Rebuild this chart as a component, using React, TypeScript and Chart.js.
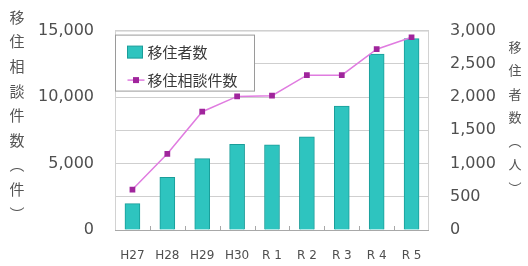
import React, { useEffect, useRef } from 'react';
import { Chart, registerables } from 'chart.js';
Chart.register(...registerables);

const categories = ['H27', 'H28', 'H29', 'H30', 'R 1', 'R 2', 'R 3', 'R 4', 'R 5'];
const migrants = [396, 792, 1075, 1288, 1280, 1400, 1865, 2645, 2880];
const consultations = [3040, 5730, 8900, 10050, 10100, 11650, 11650, 13600, 14500];
const leftTitle = ['移', '住', '相', '談', '件', '数', '︵', '件', '︶'];
const rightTitle = ['移', '住', '者', '数', '︵', '人', '︶'];
const barLabel = '移住者数';
const lineLabel = '移住相談件数';

const TEAL = '#2ec4bf';
const TEAL_EDGE = '#1a9d99';
const LINE = '#e07ce0';
const MARK = '#a0259c';
const TICK = '#4f4f4f';
const JP = '"Noto Sans CJK JP", "Noto Sans", sans-serif';

const decor = {
  id: 'decor',
  beforeDatasetsDraw(chart: any) {
    const { ctx, chartArea: a, scales } = chart;
    ctx.save();
    ctx.strokeStyle = '#d2d2d2';
    ctx.lineWidth = 1;
    ctx.strokeRect(a.left + 0.5, a.top + 0.5, a.right - a.left - 1, a.bottom - a.top);
    ctx.strokeStyle = '#a8a8a8';
    ctx.beginPath();
    ctx.moveTo(a.left, a.bottom + 0.5);
    ctx.lineTo(a.right, a.bottom + 0.5);
    const x = scales.x;
    for (let i = 1; i < categories.length; i++) {
      const px = Math.round((x.getPixelForValue(i - 1) + x.getPixelForValue(i)) / 2) + 0.5;
      ctx.moveTo(px, a.bottom);
      ctx.lineTo(px, a.bottom - 4);
    }
    ctx.stroke();
    ctx.restore();
  },
  afterDatasetsDraw(chart: any) {
    const { ctx, chartArea: a } = chart;
    ctx.save();
    const bx = a.left + 0.5, by = a.top + 4.5, bw = 139, bh = 56;
    ctx.fillStyle = '#fff';
    ctx.fillRect(bx, by, bw, bh);
    ctx.strokeStyle = '#9a9a9a';
    ctx.lineWidth = 1;
    ctx.strokeRect(bx, by, bw, bh);
    ctx.fillStyle = TEAL;
    ctx.fillRect(bx + 12, by + 11, 15, 12);
    ctx.strokeStyle = TEAL_EDGE;
    ctx.strokeRect(bx + 12, by + 11, 15, 12);
    ctx.strokeStyle = LINE;
    ctx.lineWidth = 1.5;
    ctx.beginPath();
    ctx.moveTo(bx + 12, by + 45);
    ctx.lineTo(bx + 29, by + 45);
    ctx.stroke();
    ctx.fillStyle = MARK;
    ctx.fillRect(bx + 17.5, by + 42, 6, 6);
    ctx.fillStyle = '#3a3a3a';
    ctx.font = '15px ' + JP;
    ctx.textBaseline = 'middle';
    ctx.textAlign = 'left';
    ctx.fillText(barLabel, bx + 32, by + 17);
    ctx.fillText(lineLabel, bx + 32, by + 45);
    ctx.restore();
  },
  afterDraw(chart: any) {
    const { ctx } = chart;
    ctx.save();
    ctx.fillStyle = '#555';
    ctx.textAlign = 'center';
    ctx.textBaseline = 'middle';
    ctx.font = '15px ' + JP;
    leftTitle.forEach((ch, i) => {
      ctx.fillText(ch, 17, 17 + i * 24.6);
    });
    ctx.font = '13px ' + JP;
    rightTitle.forEach((ch, i) => {
      ctx.fillText(ch, 515, 47 + i * 23.5);
    });
    ctx.restore();
  },
};

export default function App() {
  const ref = useRef<HTMLCanvasElement>(null);
  useEffect(() => {
    const chart = new Chart(ref.current as HTMLCanvasElement, {
      type: 'bar',
      data: {
        labels: categories,
        datasets: [
          {
            type: 'line',
            label: lineLabel,
            data: consultations,
            yAxisID: 'y',
            borderColor: LINE,
            borderWidth: 1.5,
            pointStyle: 'rect',
            pointRadius: 3,
            pointBackgroundColor: MARK,
            pointBorderColor: MARK,
            tension: 0,
          } as any,
          {
            type: 'bar',
            label: barLabel,
            data: migrants,
            yAxisID: 'y1',
            backgroundColor: TEAL,
            borderColor: TEAL_EDGE,
            borderWidth: 1,
            barThickness: 15,
          } as any,
        ],
      },
      options: {
        responsive: false,
        animation: false,
        devicePixelRatio: 1,
        layout: { padding: { top: 18, left: 0, right: 0, bottom: 0 } },
        plugins: { legend: { display: false }, tooltip: { enabled: false } },
        scales: {
          x: {
            grid: { display: false, drawTicks: false },
            border: { display: false },
            ticks: { color: TICK, font: { family: 'DejaVu Sans', size: 12 }, padding: 19, maxRotation: 0 },
            afterFit(s: any) { s.height = 36; },
          },
          y: {
            position: 'left',
            min: 0,
            max: 15000,
            grid: { display: false, drawTicks: false },
            border: { display: false },
            ticks: {
              stepSize: 5000,
              color: TICK,
              font: { family: 'DejaVu Sans', size: 16 },
              padding: 21,
              callback: (v: any) => Number(v).toLocaleString('en-US'),
            },
            afterFit(s: any) { s.width = 115; },
          },
          y1: {
            position: 'right',
            min: 0,
            max: 3000,
            grid: { color: '#cfcfcf', drawTicks: false },
            border: { display: false },
            ticks: {
              stepSize: 500,
              color: TICK,
              font: { family: 'DejaVu Sans', size: 16 },
              padding: 21,
              callback: (v: any) => Number(v).toLocaleString('en-US'),
            },
            afterFit(s: any) { s.width = 99; },
          },
        },
      },
      plugins: [decor],
    });
    return () => chart.destroy();
  }, []);
  return (
    <div style={{ position: 'fixed', left: 0, top: 0, width: 528, height: 266, background: '#fff' }}>
      <canvas ref={ref} width={528} height={266} style={{ display: 'block', width: 528, height: 266 }} />
    </div>
  );
}
